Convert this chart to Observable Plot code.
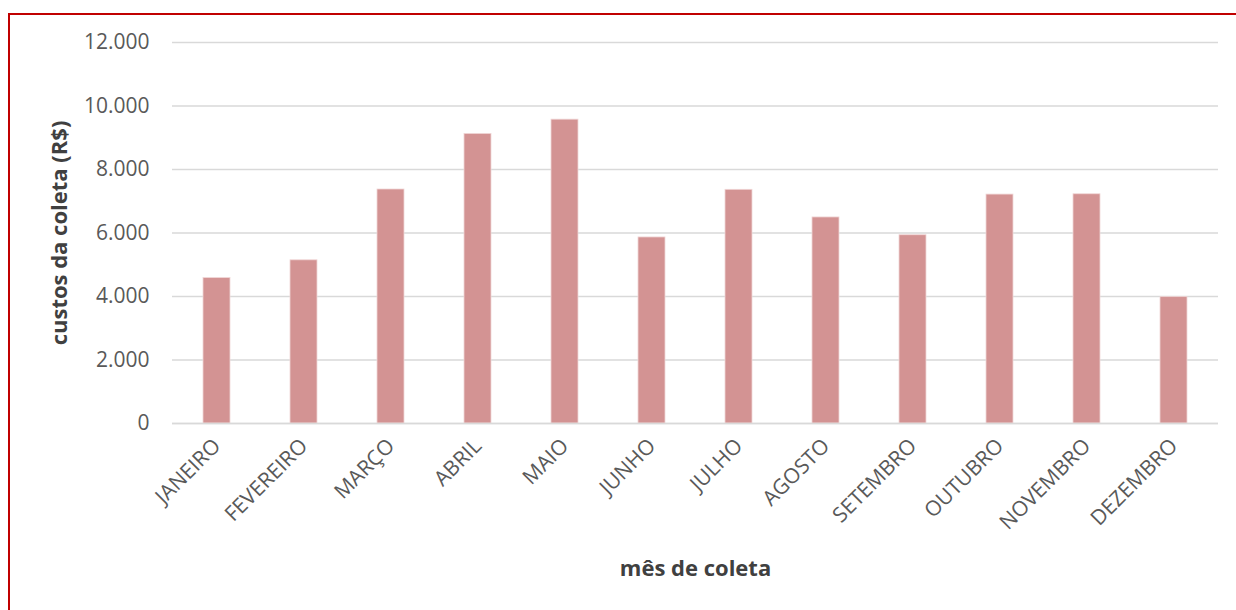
<!DOCTYPE html>
<html>
<head>
<meta charset="utf-8">
<script src="https://cdn.jsdelivr.net/npm/d3@7"></script>
<script src="https://cdn.jsdelivr.net/npm/@observablehq/plot@0.6"></script>
<style>
  html, body { margin: 0; padding: 0; background: #fff; }
  #wrap { position: relative; width: 1236px; height: 610px; overflow: hidden; }
  #frame {
    position: absolute; left: 8px; top: 13px; width: 1240px; height: 620px;
    border-left: 2px solid #c00000; border-top: 2px solid #c00000;
    pointer-events: none;
  }
  #chart svg { display: block; }
  #chart [aria-label="y-axis label"], #chart [aria-label="x-axis label"] {
    font-weight: bold; fill: #404040; font-size: 22px;
  }
</style>
</head>
<body>
<div id="wrap">
  <div id="chart"></div>
  <div id="frame"></div>
</div>
<script>
// Monthly collection costs (R$)
const meses = ["JANEIRO", "FEVEREIRO", "MARÇO", "ABRIL", "MAIO", "JUNHO",
               "JULHO", "AGOSTO", "SETEMBRO", "OUTUBRO", "NOVEMBRO", "DEZEMBRO"];
const custos = [4580, 5140, 7370, 9120, 9570, 5860, 7360, 6490, 5930, 7210, 7220, 3980];
const yTicks = [0, 2000, 4000, 6000, 8000, 10000, 12000];

const data = meses.map((mes, i) => ({mes, custo: custos[i]}));

const ptBR = d3.formatLocale({decimal: ",", thousands: ".", grouping: [3], currency: ["R$", ""]});
const fmt = ptBR.format(",");

const chart = Plot.plot({
  width: 1236,
  height: 610,
  marginLeft: 172,
  marginRight: 18,
  marginTop: 42,
  marginBottom: 187,
  style: {fontFamily: "'Open Sans', sans-serif", fontSize: "21px", color: "#595959", background: "#fff"},
  x: {domain: meses, paddingInner: 0.69, paddingOuter: 0.345, label: null},
  y: {domain: [0, 12000], label: null},
  marks: [
    Plot.gridY(yTicks, {stroke: "#d9d9d9", strokeOpacity: 1, strokeWidth: 1.5}),
    Plot.barY(data, {x: "mes", y: "custo", fill: "#d39393", stroke: "#f0d6d6", strokeWidth: 0.8}),
    Plot.ruleY([0], {stroke: "#d9d9d9", strokeWidth: 1.5}),
    Plot.axisY(yTicks, {
      tickSize: 0, tickPadding: 23, tickFormat: fmt, fontSize: 21,
      label: "custos da coleta (R$)", labelAnchor: "center", labelArrow: "none", labelOffset: 121
    }),
    Plot.axisX({
      tickSize: 0, tickPadding: 19, tickRotate: -45, fontSize: 21,
      label: "mês de coleta", labelAnchor: "center", labelArrow: "none", labelOffset: 152
    })
  ]
});
document.getElementById("chart").appendChild(chart);
</script>
</body>
</html>
